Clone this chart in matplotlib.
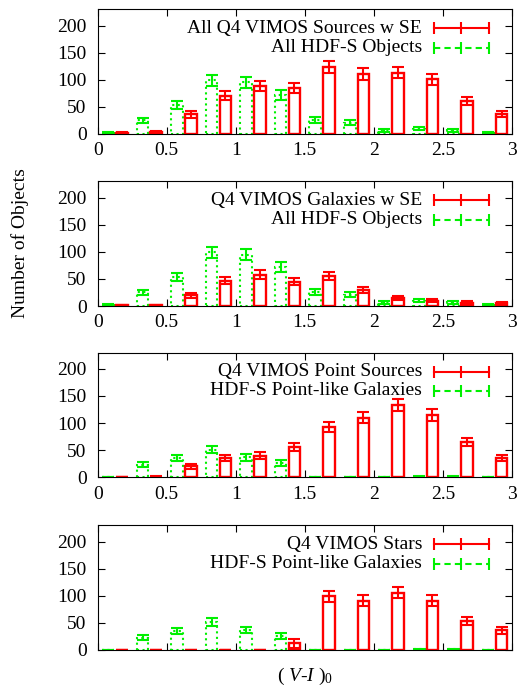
import matplotlib
matplotlib.use('Agg')
import matplotlib.pyplot as plt
import numpy as np

plt.rcParams['font.family'] = 'Liberation Serif'
plt.rcParams['mathtext.fontset'] = 'custom'
plt.rcParams['mathtext.rm'] = 'Liberation Serif'
plt.rcParams['mathtext.it'] = 'Liberation Serif:italic'

# bin centres of (V-I)_0
bins = [0.125, 0.375, 0.625, 0.875, 1.125, 1.375, 1.625, 1.875, 2.125, 2.375, 2.625, 2.875]

# panel 1
red1 = [2, 3, 36, 71, 89, 85, 123, 111, 113, 101, 61, 37]
red1_err = [1.4, 1.7, 6, 8.4, 9.4, 9.2, 11, 10.5, 10.6, 10, 7.8, 6]
# all HDF-S objects (panels 1 and 2)
green_all = [2, 25, 54, 99, 95, 72, 26, 21, 6, 10, 7, 2]
green_all_err = [1.4, 5, 7.3, 9.9, 9.7, 8.5, 5.1, 4.6, 2.4, 3.2, 2.6, 1.4]

# panel 2
red2 = [1, 1, 20, 47, 58, 45, 56, 30, 14, 10, 6, 5]
red2_err = [1, 1, 4.5, 6.9, 7.6, 6.7, 7.5, 5.5, 3.7, 3.2, 2.4, 2.2]

# HDF-S point-like galaxies (panels 3 and 4)
green_pt = [0, 23, 35, 51, 37, 26, 0, 0, 0, 1, 1, 0]
green_pt_err = [0, 4.8, 5.9, 7.1, 6.1, 5.1, 0, 0, 0, 1, 1, 0]

# panel 3
red3 = [0, 1, 20, 36, 40, 55, 93, 110, 133, 115, 65, 35]
red3_err = [0, 1, 4.5, 6, 6.3, 7.4, 9.6, 10.5, 11.5, 10.7, 8, 5.9]

# panel 4
red4 = [0, 0, 0, 0, 0, 12, 99, 91, 106, 91, 54, 36]
red4_err = [0, 0, 0, 0, 0, 8, 10, 9.5, 10.3, 9.5, 7.3, 6]

panels = [
    ('All Q4 VIMOS Sources w SE', red1, red1_err, 'All HDF-S Objects', green_all, green_all_err),
    ('Q4 VIMOS Galaxies w SE', red2, red2_err, 'All HDF-S Objects', green_all, green_all_err),
    ('Q4 VIMOS Point Sources', red3, red3_err, 'HDF-S Point-like Galaxies', green_pt, green_pt_err),
    ('Q4 VIMOS Stars', red4, red4_err, 'HDF-S Point-like Galaxies', green_pt, green_pt_err),
]

RED = '#ff0000'
GREEN = '#00f000'
FS = 14

fig = plt.figure(figsize=(5.21, 6.9), dpi=100)
bottoms = [0.8058, 0.5565, 0.3083, 0.058]
x = np.array(bins)
w = 0.085

for i, (rlab, r, rerr, glab, g, gerr) in enumerate(panels):
    ax = fig.add_axes([0.1875, bottoms[i], 0.795, 0.1807])
    ax.bar(x - 0.05, g, width=w, fill=False, edgecolor=GREEN, linestyle=':', linewidth=1.5)
    ax.errorbar(x - 0.05, g, yerr=gerr, fmt='none', ecolor=GREEN, elinewidth=1.5, capsize=4, capthick=1.5)
    ax.bar(x + 0.05, r, width=w, fill=False, edgecolor=RED, linewidth=1.7)
    ax.errorbar(x + 0.05, r, yerr=rerr, fmt='none', ecolor=RED, elinewidth=1.5, capsize=4, capthick=1.5)

    ax.set_xlim(0, 3)
    ax.set_ylim(0, 230)
    ax.set_xticks([0, 0.5, 1, 1.5, 2, 2.5, 3])
    ax.set_xticklabels(['0', '0.5', '1', '1.5', '2', '2.5', '3'])
    ax.set_yticks([0, 50, 100, 150, 200])
    ax.tick_params(direction='in', top=True, right=True, length=5, labelsize=FS)
    ax.tick_params(axis='y', pad=8)
    ax.tick_params(axis='x', pad=6)
    if i == 3:
        ax.set_xticklabels([])

    # gnuplot style key
    ax.text(0.783, 0.848, rlab, transform=ax.transAxes, ha='right', va='center', fontsize=FS)
    ax.text(0.783, 0.692, glab, transform=ax.transAxes, ha='right', va='center', fontsize=FS)
    ax.plot([0.811, 0.944], [0.848, 0.848], color=RED, linewidth=1.5, transform=ax.transAxes)
    ax.plot([0.811, 0.8775, 0.944], [0.848] * 3, linestyle='none', marker='|', markersize=9,
            markeredgewidth=1.5, color=RED, transform=ax.transAxes)
    ax.plot([0.811, 0.944], [0.692, 0.692], color=GREEN, linewidth=1.5, linestyle='--',
            dashes=(3, 2), transform=ax.transAxes)
    ax.plot([0.811, 0.8775, 0.944], [0.692] * 3, linestyle='none', marker='|', markersize=9,
            markeredgewidth=1.5, color=GREEN, transform=ax.transAxes)

fig.text(0.038, 1 - 243 / 690, 'Number of Objects', rotation=90, ha='center', va='center', fontsize=FS)
fig.text(0.585, 1 - 676 / 690, r'( $V$-$I$ )$_0$', ha='center', va='center', fontsize=FS)

fig.savefig('out.png', dpi=100)
